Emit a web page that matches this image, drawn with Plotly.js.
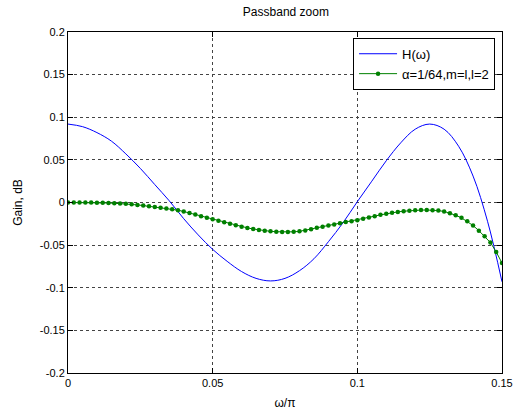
<!DOCTYPE html>
<html>
<head>
<meta charset="utf-8">
<script src="https://cdn.plot.ly/plotly-3.0.1.min.js"></script>
<style>html,body{margin:0;padding:0;background:#fff;}#chart{width:517px;height:414px;}</style>
</head>
<body>
<div id="chart"></div>
<script>
// H(omega) — blue curve, sampled every 0.005
const omegaH = [0, 0.005, 0.010, 0.015, 0.020, 0.025, 0.030, 0.035, 0.040, 0.045,
  0.050, 0.055, 0.060, 0.065, 0.070, 0.075, 0.080, 0.085, 0.090, 0.095,
  0.100, 0.105, 0.110, 0.115, 0.120, 0.125, 0.130, 0.135, 0.140, 0.145, 0.150];
const gainH = [0.092, 0.089, 0.082, 0.072, 0.057, 0.040, 0.021, 0.002, -0.019, -0.038,
  -0.055, -0.069, -0.081, -0.089, -0.092, -0.089, -0.080, -0.066, -0.046, -0.024,
  0.001, 0.025, 0.049, 0.070, 0.086, 0.092, 0.086, 0.066, 0.031, -0.022, -0.093];

// alpha=1/64 approximation — green dotted curve, sampled every 0.002
const omegaA = [0,0.002,0.004,0.006,0.008,0.010,0.012,0.014,0.016,0.018,
  0.020,0.022,0.024,0.026,0.028,0.030,0.032,0.034,0.036,0.038,
  0.040,0.042,0.044,0.046,0.048,0.050,0.052,0.054,0.056,0.058,
  0.060,0.062,0.064,0.066,0.068,0.070,0.072,0.074,0.076,0.078,
  0.080,0.082,0.084,0.086,0.088,0.090,0.092,0.094,0.096,0.098,
  0.100,0.102,0.104,0.106,0.108,0.110,0.112,0.114,0.116,0.118,
  0.120,0.122,0.124,0.126,0.128,0.130,0.132,0.134,0.136,0.138,
  0.140,0.142,0.144,0.146,0.148,0.150];
const gainA = [0,0,0,0,0,-0.0002,-0.0004,-0.0006,-0.0009,-0.0012,
  -0.0015,-0.0021,-0.0028,-0.0036,-0.0044,-0.0053,-0.0062,-0.0071,-0.0080,-0.0090,
  -0.0106,-0.0124,-0.0142,-0.0160,-0.0178,-0.0196,-0.0214,-0.0232,-0.0249,-0.0266,
  -0.0283,-0.0298,-0.0311,-0.0322,-0.0331,-0.0338,-0.0343,-0.0346,-0.0347,-0.0344,
  -0.0338,-0.0327,-0.0313,-0.0297,-0.0283,-0.0270,-0.0257,-0.0243,-0.0230,-0.0219,
  -0.0208,-0.0192,-0.0176,-0.0160,-0.0145,-0.0132,-0.0120,-0.0110,-0.0102,-0.0096,
  -0.0092,-0.0089,-0.0088,-0.0090,-0.0095,-0.0105,-0.0125,-0.0150,-0.0180,-0.0220,
  -0.0270,-0.0330,-0.0395,-0.0470,-0.0580,-0.0710];

const xTickVals = [0, 0.05, 0.1, 0.15];
const xTickText = ['0', '0.05', '0.1', '0.15'];
const yTickVals = [0.2, 0.15, 0.1, 0.05, 0, -0.05, -0.1, -0.15, -0.2];
const yTickText = ['0.2', '0.15', '0.1', '0.05', '0', '-0.05', '-0.1', '-0.15', '-0.2'];

const FONT = 'Arial, "Liberation Sans", sans-serif';

const traces = [
  {x: omegaH, y: gainH, type: 'scatter', mode: 'lines', name: 'H(ω)',
   line: {color: '#0000ff', width: 1, shape: 'spline', smoothing: 1}},
  {x: omegaA, y: gainA, type: 'scatter', mode: 'lines+markers', name: 'α=1/64,m=l,l=2',
   line: {color: '#008000', width: 1}, marker: {color: '#008000', size: 4.5}}
];

const axisCommon = {
  showline: true, linecolor: '#000', linewidth: 1, mirror: 'ticks',
  ticks: 'inside', ticklen: 5, tickcolor: '#000', tickwidth: 1,
  showgrid: true, gridcolor: '#444', gridwidth: 1, griddash: '3px,3px',
  zeroline: false, tickfont: {family: FONT, size: 11, color: '#000'}
};

const layout = {
  width: 517, height: 414,
  margin: {l: 68, r: 15, t: 32, b: 41},
  paper_bgcolor: '#fff', plot_bgcolor: '#fff',
  font: {family: FONT, size: 11, color: '#000'},
  title: {text: 'Passband zoom', font: {family: FONT, size: 12, color: '#000'},
          x: 0.553, xanchor: 'center', y: 0.972, yanchor: 'middle'},
  xaxis: Object.assign({}, axisCommon, {
    range: [0, 0.15], tickvals: xTickVals, ticktext: xTickText,
    title: {text: 'ω/π', font: {family: FONT, size: 12, color: '#000'}, standoff: 10}
  }),
  yaxis: Object.assign({}, axisCommon, {
    range: [-0.2, 0.2], tickvals: yTickVals, ticktext: yTickText,
    title: {text: 'Gain, dB', font: {family: FONT, size: 12, color: '#000'}, standoff: 14}
  }),
  showlegend: true,
  legend: {x: 0.984, y: 0.983, xanchor: 'right', yanchor: 'top',
           bgcolor: '#fff', bordercolor: '#000', borderwidth: 1,
           font: {family: FONT, size: 13, color: '#000'},
           tracegroupgap: 0, itemwidth: 38}
};

Plotly.newPlot('chart', traces, layout, {displayModeBar: false, staticPlot: true});
</script>
</body>
</html>
